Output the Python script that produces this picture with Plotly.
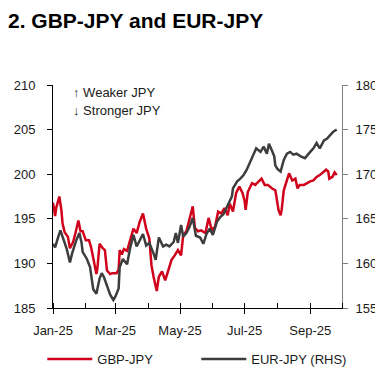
import plotly.graph_objects as go

# GBP-JPY (left axis)
gbp_dates = ["2025-01-01","2025-01-03","2025-01-04","2025-01-07","2025-01-09","2025-01-10","2025-01-12","2025-01-15",
 "2025-01-17","2025-01-20","2025-01-22","2025-01-25","2025-01-27","2025-01-29","2025-02-01","2025-02-04","2025-02-06",
 "2025-02-09","2025-02-11","2025-02-12","2025-02-14","2025-02-17","2025-02-19","2025-02-21","2025-02-24","2025-02-26",
 "2025-03-02","2025-03-04","2025-03-05","2025-03-07","2025-03-09","2025-03-12","2025-03-15","2025-03-18","2025-03-21",
 "2025-03-24","2025-03-27","2025-03-30","2025-04-02","2025-04-04","2025-04-06","2025-04-09","2025-04-11","2025-04-14",
 "2025-04-17","2025-04-20","2025-04-23","2025-04-26","2025-04-29","2025-05-02","2025-05-04","2025-05-07","2025-05-10",
 "2025-05-13","2025-05-15","2025-05-18","2025-05-21","2025-05-25","2025-05-28","2025-05-31","2025-06-03","2025-06-06",
 "2025-06-09","2025-06-12","2025-06-15","2025-06-17","2025-06-20","2025-06-23","2025-06-26","2025-06-29","2025-07-01",
 "2025-07-02","2025-07-04","2025-07-08","2025-07-11","2025-07-14","2025-07-17","2025-07-20","2025-07-23","2025-07-27",
 "2025-07-30","2025-07-31","2025-08-02","2025-08-04","2025-08-05","2025-08-07","2025-08-10","2025-08-12","2025-08-15",
 "2025-08-18","2025-08-20","2025-08-22","2025-08-26","2025-08-29","2025-09-01","2025-09-04","2025-09-07","2025-09-10",
 "2025-09-14","2025-09-16","2025-09-18","2025-09-19","2025-09-22","2025-09-24","2025-09-26"]
gbp_jpy = [196.8,195.3,196.2,197.5,195.9,194.5,193.5,193.0,
 191.7,192.4,193.3,194.8,193.6,193.6,192.6,192.6,191.8,
 189.8,188.8,189.5,192.2,191.7,191.5,189.2,188.8,188.9,
 188.9,189.3,191.5,191.0,191.6,191.4,192.6,193.9,193.4,
 194.7,195.6,193.9,192.8,189.8,188.5,186.9,188.5,189.1,
 188.1,189.3,190.4,190.9,191.5,190.9,193.2,193.6,195.0,
 196.4,194.0,193.6,193.7,193.4,195.1,193.7,194.1,195.8,
 195.6,196.2,195.4,196.7,195.8,197.9,198.6,197.9,197.0,
 196.0,198.0,199.0,198.8,199.2,199.5,198.8,198.8,198.4,
 198.2,197.5,196.0,195.4,196.0,198.2,199.5,200.1,199.3,
 199.5,198.4,198.8,198.8,199.0,199.2,199.3,199.7,199.9,
 200.3,200.5,200.3,199.5,199.7,200.2,199.9]

# EUR-JPY (right axis)
eur_dates = ["2025-01-01","2025-01-03","2025-01-06","2025-01-08","2025-01-10","2025-01-14","2025-01-17","2025-01-19",
 "2025-01-23","2025-01-26","2025-01-28","2025-01-29","2025-02-02","2025-02-05","2025-02-08","2025-02-11","2025-02-14",
 "2025-02-16","2025-02-18","2025-02-21","2025-02-24","2025-02-27","2025-03-01","2025-03-04","2025-03-05","2025-03-08",
 "2025-03-12","2025-03-15","2025-03-18","2025-03-21","2025-03-24","2025-03-27","2025-03-30","2025-04-02","2025-04-06",
 "2025-04-08","2025-04-11","2025-04-15","2025-04-18","2025-04-21","2025-04-25","2025-04-27","2025-04-29","2025-05-02",
 "2025-05-04","2025-05-07","2025-05-10","2025-05-13","2025-05-16","2025-05-20","2025-05-23","2025-05-26","2025-05-29",
 "2025-06-01","2025-06-05","2025-06-08","2025-06-11","2025-06-13","2025-06-16","2025-06-19","2025-06-20","2025-06-24",
 "2025-06-27","2025-06-30","2025-07-03","2025-07-06","2025-07-09","2025-07-12","2025-07-16","2025-07-19","2025-07-22",
 "2025-07-24","2025-07-27","2025-07-29","2025-07-30","2025-08-01","2025-08-04","2025-08-07","2025-08-10","2025-08-13",
 "2025-08-16","2025-08-19","2025-08-23","2025-08-27","2025-09-01","2025-09-04","2025-09-07","2025-09-10","2025-09-14",
 "2025-09-17","2025-09-20","2025-09-23","2025-09-26"]
eur_jpy = [162.2,161.8,163.0,163.7,163.0,161.6,160.1,161.1,
 162.6,163.4,162.3,161.3,160.5,159.6,157.1,156.6,158.3,
 158.9,158.5,157.6,156.5,155.9,156.3,157.2,159.6,160.5,
 159.9,161.8,163.2,161.9,162.6,163.3,162.0,162.3,161.1,
 160.4,162.9,161.9,162.1,161.9,162.4,163.4,162.3,164.3,
 163.0,163.4,164.1,165.1,163.1,162.9,162.2,163.3,163.9,
 163.2,164.7,165.2,165.5,166.0,166.7,167.5,168.4,169.2,
 169.5,169.9,170.5,171.3,172.0,172.9,172.5,173.1,172.3,
 173.4,172.6,172.0,171.0,170.6,170.3,171.6,172.3,172.5,
 172.2,172.3,172.0,171.8,172.5,172.9,173.5,172.9,173.8,
 174.0,174.4,174.8,175.0]

RED = "#D0021B"
GREY = "#3D3D3D"
FONT = "Liberation Sans, Arial, sans-serif"

W, H = 375, 365  # page body has an 8px margin

fig = go.Figure()
fig.add_trace(go.Scatter(x=gbp_dates, y=gbp_jpy, mode="lines", name="GBP-JPY",
                         line=dict(color=RED, width=2.5), yaxis="y"))
fig.add_trace(go.Scatter(x=eur_dates, y=eur_jpy, mode="lines", name="EUR-JPY (RHS)",
                         line=dict(color=GREY, width=2.5), yaxis="y2"))

fig.update_layout(
    width=W, height=H,
    margin=dict(l=45, r=41, t=77, b=65, autoexpand=False),
    paper_bgcolor="white", plot_bgcolor="white",
    font=dict(family=FONT, size=13, color="#1a1a1a"),
    title=dict(text="<b>2. GBP-JPY and EUR-JPY</b>", x=0, xanchor="left",
               y=1-12.5/H, yanchor="middle", xref="container", yref="container",
               font=dict(family=FONT, size=21, color="black")),
    xaxis=dict(range=["2025-01-01", "2025-10-01"], type="date", dtick="M2", tick0="2025-01-01",
               tickformat="%b-%y", showgrid=False, zeroline=False, automargin=False,
               showline=True, linecolor="black", linewidth=1,
               ticks="outside", ticklen=5, tickcolor="black", ticklabelstandoff=5,
               minor=dict(dtick="M1", tick0="2025-01-01", ticks="inside", ticklen=5, tickcolor="black")),
    yaxis=dict(range=[185, 210], dtick=5, showgrid=False, zeroline=False, automargin=False,
               showline=True, linecolor="black", linewidth=1,
               ticks="outside", ticklen=5, tickcolor="black", ticklabelstandoff=9),
    yaxis2=dict(range=[155, 180], dtick=5, overlaying="y", side="right", showgrid=False, zeroline=False,
                automargin=False, showline=True, linecolor="#7f7f7f", linewidth=1,
                ticks="outside", ticklen=5, tickcolor="#7f7f7f", ticklabelstandoff=5),
    legend=dict(orientation="h", x=-0.037, xanchor="left", y=-0.229, yanchor="middle",
                itemwidth=45, entrywidth=94, font=dict(size=13), bgcolor="rgba(0,0,0,0)"),
    showlegend=True,
)

fig.add_annotation(text="↑ Weaker JPY", x=0.063, y=1-(92-85)/223, xref="paper", yref="paper",
                   xanchor="left", yanchor="middle", showarrow=False, font=dict(size=13))
fig.add_annotation(text="↓ Stronger JPY", x=0.063, y=1-(110-85)/223, xref="paper", yref="paper",
                   xanchor="left", yanchor="middle", showarrow=False, font=dict(size=13))

fig.write_html("out.html")
